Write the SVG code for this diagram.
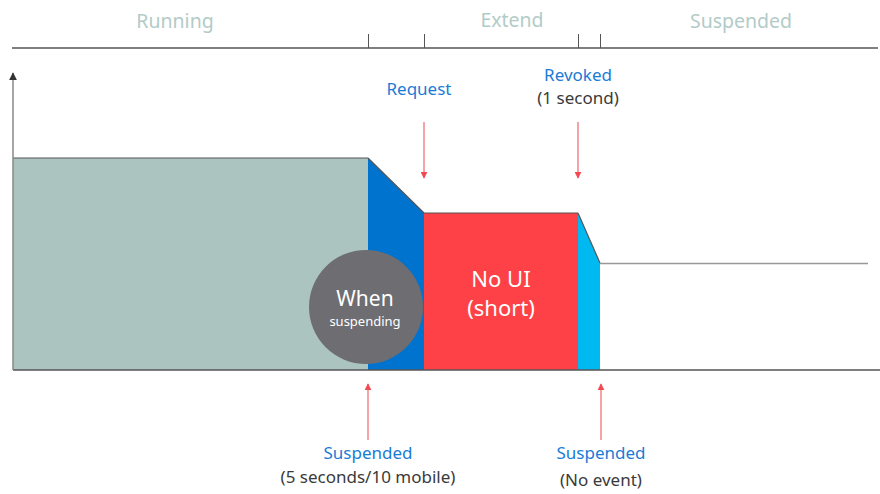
<svg xmlns="http://www.w3.org/2000/svg" width="880" height="494" viewBox="0 0 880 494">
<style>
.phase{font-family:"Segoe UI","Noto Sans","Open Sans",sans-serif;font-size:19.5px;fill:#b2cbc8;text-anchor:middle}
.blue{font-family:"Segoe UI","Noto Sans","Open Sans",sans-serif;font-size:17px;fill:#1a7bd6;text-anchor:middle}
.dark{font-family:"Segoe UI","Noto Sans","Open Sans",sans-serif;font-size:17px;fill:#3a3a3a;text-anchor:middle}
.white{font-family:"Segoe UI","Noto Sans","Open Sans",sans-serif;fill:#ffffff;text-anchor:middle}
.axis{stroke:#555;stroke-width:1.5;fill:none}
.tick{stroke:#555;stroke-width:1;fill:none}
.evt{stroke:#f2646a;stroke-width:1.2;fill:none}
</style>
<defs>
<marker id="ah" viewBox="0 0 10 10" refX="9" refY="5" markerWidth="7" markerHeight="7" orient="auto" markerUnits="userSpaceOnUse">
<path d="M0,0 L10,5 L0,10 z" fill="#f24a50"/>
</marker>
<marker id="ax" viewBox="0 0 10 10" refX="9" refY="5" markerWidth="8" markerHeight="8" orient="auto" markerUnits="userSpaceOnUse">
<path d="M0,0 L10,5 L0,10 z" fill="#333"/>
</marker>
</defs>
<rect width="880" height="494" fill="#ffffff"/>
<g id="timeline">
<line class="axis" x1="12" y1="48" x2="878" y2="48"/>
<line class="tick" x1="368.5" y1="34" x2="368.5" y2="48"/>
<line class="tick" x1="424.5" y1="34" x2="424.5" y2="48"/>
<line class="tick" x1="578.5" y1="34" x2="578.5" y2="48"/>
<line class="tick" x1="600.5" y1="34" x2="600.5" y2="48"/>
<text class="phase" x="175" y="28">Running</text>
<text class="phase" x="512" y="27">Extend</text>
<text class="phase" x="741" y="28">Suspended</text>
</g>
<g id="running">
<rect x="13" y="158" width="355" height="212" fill="#abc4c0"/>
<line x1="13" y1="158" x2="368" y2="158" stroke="#555" stroke-width="1.2"/>
</g>
<g id="extend-request">
<polygon points="368,158 424,213 424,370 368,370" fill="#0073cf"/>
<line x1="368" y1="158" x2="424" y2="213" stroke="#555" stroke-width="1.2"/>
</g>
<g id="no-ui">
<rect x="424" y="213" width="154" height="157" fill="#fe4047"/>
<line x1="424" y1="213" x2="578" y2="213" stroke="#555" stroke-width="1.2"/>
<text class="white" x="501" y="287" font-size="22">No UI</text>
<text class="white" x="501" y="316" font-size="22">(short)</text>
</g>
<g id="revoked-band">
<polygon points="578,213 600,263 600,370 578,370" fill="#00b9f1"/>
<line x1="578" y1="213" x2="600" y2="263" stroke="#555" stroke-width="1.2"/>
</g>
<g id="suspended-level">
<line x1="600" y1="263.5" x2="868" y2="263.5" stroke="#999" stroke-width="1.5"/>
</g>
<g id="axes">
<line class="axis" x1="13" y1="370" x2="880" y2="370"/>
<line x1="13" y1="370" x2="13" y2="73" stroke="#888" stroke-width="1.5" marker-end="url(#ax)"/>
</g>
<g id="when-suspending">
<circle cx="366" cy="307" r="57" fill="#6e6d71"/>
<text class="white" x="365" y="306" font-size="21">When</text>
<text class="white" x="365" y="326" font-size="13">suspending</text>
</g>
<g id="connectors">
<line class="evt" x1="424" y1="122" x2="424" y2="178" marker-end="url(#ah)"/>
<line class="evt" x1="578" y1="122" x2="578" y2="178" marker-end="url(#ah)"/>
<line class="evt" x1="368" y1="440" x2="368" y2="384" marker-end="url(#ah)"/>
<line class="evt" x1="601" y1="440" x2="601" y2="384" marker-end="url(#ah)"/>
</g>
<g id="labels">
<text class="blue" x="419" y="95">Request</text>
<text class="blue" x="578" y="81">Revoked</text>
<text class="dark" x="578" y="104">(1 second)</text>
<text class="blue" x="368" y="459">Suspended</text>
<text class="dark" x="368" y="483">(5 seconds/10 mobile)</text>
<text class="blue" x="601" y="459">Suspended</text>
<text class="dark" x="601" y="486">(No event)</text>
</g>
</svg>
